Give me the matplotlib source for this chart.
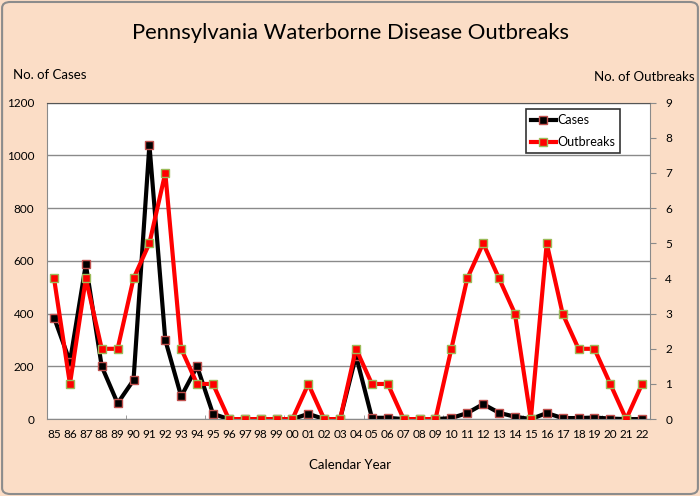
import matplotlib
matplotlib.use('Agg')
import matplotlib.pyplot as plt
from matplotlib.patches import FancyBboxPatch

# data
years = ['85', '86', '87', '88', '89', '90', '91', '92', '93', '94', '95', '96', '97',
         '98', '99', '00', '01', '02', '03', '04', '05', '06', '07', '08', '09', '10',
         '11', '12', '13', '14', '15', '16', '17', '18', '19', '20', '21', '22']
cases = [385, 218, 587, 200, 60, 148, 1040, 300, 86, 200, 20, 0, 0,
         0, 0, 0, 20, 0, 0, 240, 5, 5, 0, 0, 0, 4,
         23, 57, 24, 9, 0, 23, 4, 4, 6, 2, 0, 0]
outbreaks = [4, 1, 4, 2, 2, 4, 5, 7, 2, 1, 1, 0, 0,
             0, 0, 0, 1, 0, 0, 2, 1, 1, 0, 0, 0, 2,
             4, 5, 4, 3, 0, 5, 3, 2, 2, 1, 0, 1]

plt.rcParams['font.family'] = ['Lato', 'DejaVu Sans']
bg = '#FBDDC6'

fig = plt.figure(figsize=(7, 4.96), dpi=100, facecolor=bg)
fig.patches.append(FancyBboxPatch((0.003, 0.004), 0.994, 0.992,
                                  boxstyle='round,pad=0,rounding_size=0.012',
                                  transform=fig.transFigure, facecolor='none',
                                  edgecolor='#8C8C8C', linewidth=1.5))

ax = fig.add_axes([0.067, 0.155, 0.8616, 0.638])
ax.set_facecolor('white')
x = list(range(len(years)))

ax.plot(x, cases, color='black', linewidth=3, marker='s', markersize=5.5,
        markerfacecolor='black', markeredgecolor='#C0504D', markeredgewidth=1,
        label='Cases')
ax.set_ylim(0, 1200)
ax.set_yticks(range(0, 1201, 200))
ax.set_xlim(-0.45, len(years) - 0.5)
ax.set_xticks(x)
ax.set_xticklabels(years, fontsize=8.5)
ax.set_xticks([i + 4.5 for i in range(0, len(years) - 5, 5)], minor=True)
ax.tick_params(axis='x', which='major', length=0, pad=7)
ax.tick_params(axis='x', which='minor', direction='in', length=3, color='#8A8A8A')
ax.tick_params(axis='y', length=0, labelsize=8.5, pad=9)
ax.grid(axis='y', color='#8A8A8A', linewidth=1)
ax.set_axisbelow(True)
for s in ['left', 'bottom', 'right']:
    ax.spines[s].set_color('#8A8A8A')
ax.spines['top'].set_color('#555555')

ax2 = ax.twinx()
ax2.plot(x, outbreaks, color='#FF0000', linewidth=3, marker='s', markersize=5.5,
         markerfacecolor='#FF0000', markeredgecolor='#9BBB59', markeredgewidth=1,
         label='Outbreaks')
ax2.set_ylim(0, 9)
ax2.set_yticks(range(0, 10))
ax2.tick_params(axis='y', direction='out', length=4, color='#8A8A8A', labelsize=8.5, pad=7)
for s in ['left', 'bottom', 'right', 'top']:
    ax2.spines[s].set_visible(False)

h1, l1 = ax.get_legend_handles_labels()
h2, l2 = ax2.get_legend_handles_labels()
leg = ax2.legend(h1 + h2, l1 + l2, loc='upper right', bbox_to_anchor=(0.957, 0.992),
                 fontsize=9, frameon=True, fancybox=False, handlelength=2.0,
                 borderpad=0.4, labelspacing=0.8, handletextpad=0.15,
                 borderaxespad=0.3)
leg.get_frame().set_edgecolor('black')
leg.get_frame().set_linewidth(1.2)

fig.text(0.5, 0.933, 'Pennsylvania Waterborne Disease Outbreaks', ha='center',
         va='center', fontsize=15.8)
fig.text(0.019, 0.849, 'No. of Cases', ha='left', va='center', fontsize=9.5)
fig.text(0.992, 0.845, 'No. of Outbreaks', ha='right', va='center', fontsize=9.5)
fig.text(0.5, 0.062, 'Calendar Year', ha='center', va='center', fontsize=9.5)

fig.savefig('out.png', dpi=100, facecolor=bg)
